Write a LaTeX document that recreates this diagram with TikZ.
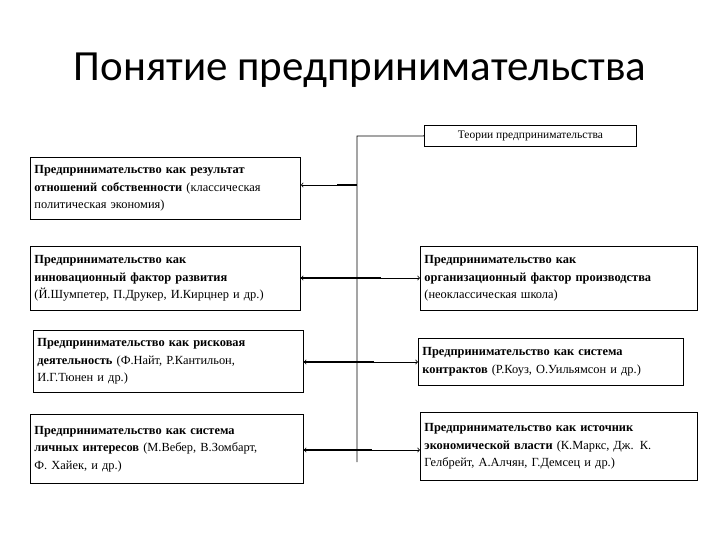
\documentclass[tikz,border=0pt]{standalone}
\usepackage{fontspec}
\setmainfont{Liberation Serif}
\newfontfamily\titlefont{Carlito}
\begin{document}
\begin{tikzpicture}[x=1pt,y=-1pt,
 box/.style={draw,thick,anchor=north west,align=left,inner sep=4pt,font=\fontsize{12.4}{17.5}\selectfont},
 thin/.style={line width=0.8pt},
 thk/.style={line width=1.8pt}]
\useasboundingbox (0,0) rectangle (720,540);
\node[font=\titlefont\fontsize{43}{45}\selectfont] (title) at (360,70) {Понятие предпринимательства};
\node[draw,thick,minimum width=212pt,minimum height=21pt,anchor=north west,font=\fontsize{11.5}{13}\selectfont] (th) at (424,125) {Теории предпринимательства};
\node[box,text width=262pt,minimum height=62pt] (l1) at (30,157) {\textbf{Предпринимательство как результат}\\\textbf{отношений собственности} (классическая\\политическая экономия)};
\node[box,text width=262pt,minimum height=64pt] (l2) at (30,246) {\textbf{Предпринимательство как}\\\textbf{инновационный фактор развития}\\(Й.Шумпетер, П.Друкер, И.Кирцнер и др.)};
\node[box,text width=269pt,minimum height=64pt] (r2) at (420,246) {\textbf{Предпринимательство как}\\\textbf{организационный фактор производства}\\(неоклассическая школа)};
\node[box,text width=262pt,minimum height=62pt] (l3) at (33,330) {\textbf{Предпринимательство как рисковая}\\\textbf{деятельность} (Ф.Найт, Р.Кантильон,\\И.Г.Тюнен и др.)};
\node[box,text width=257pt,minimum height=47pt] (r3) at (418,338) {\textbf{Предпринимательство как система}\\\textbf{контрактов} (Р.Коуз, О.Уильямсон и др.)};
\node[box,text width=265pt,minimum height=69pt] (l4) at (30,414) {\textbf{Предпринимательство как система}\\\textbf{личных интересов} (М.Вебер, В.Зомбарт,\\Ф. Хайек, и др.)};
\node[box,text width=269pt,minimum height=68pt] (r4) at (420,412) {\textbf{Предпринимательство как источник}\\\textbf{экономической власти} (К.Маркс, Дж. К.\\Гелбрейт, А.Алчян, Г.Демсец и др.)};
\coordinate (top) at (357,136);
\coordinate (bot) at (357,462);
\draw[thin] (th.west) -- (top) -- (bot);
\draw[thin,->] (357,185) -- (l1.east |- 0,185);
\draw[thk] (337,185) -- (357,185);
\draw[thin,<->] (l2.east |- 0,278) -- (r2.west |- 0,278);
\draw[thk] (l2.east |- 0,278) -- (381,278);
\draw[thin,<->] (l3.east |- 0,362) -- (r3.west |- 0,362);
\draw[thk] (l3.east |- 0,362) -- (374,362);
\draw[thin,<->] (l4.east |- 0,450) -- (r4.west |- 0,450);
\draw[thk] (l4.east |- 0,450) -- (372,450);
\end{tikzpicture}
\end{document}
